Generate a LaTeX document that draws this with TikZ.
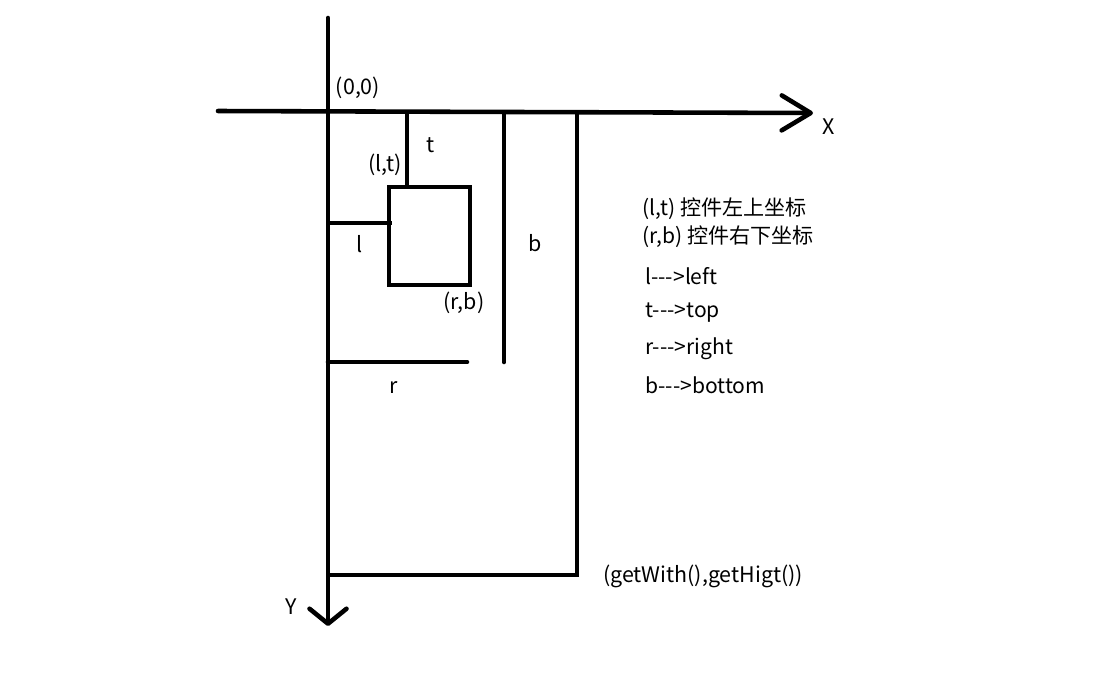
\documentclass[tikz,border=0pt]{standalone}
\usepackage{fontspec}
\setmainfont{Noto Sans CJK SC}
\usetikzlibrary{arrows.meta, positioning, calc}

\begin{document}
\begin{tikzpicture}[
    x=0.02cm, y=-0.02cm,
    pen/.style={line width=2.6pt},
    axis/.style={pen, line cap=round},
    lbl/.style={font=\fontsize{12.2}{14}\selectfont, inner sep=0},
    note/.style={font=\fontsize{12}{14}\selectfont, inner sep=0, anchor=west}
]
\useasboundingbox (0,0) rectangle (1114,673);
% axes
\coordinate (xs) at (218,111);
\coordinate (xe) at (813,113);
\coordinate (ys) at (328,18);
\coordinate (ye) at (328,626);
\draw[axis, -{Straight Barb[length=0.58cm, width=0.7cm, round]}] (xs) -- (xe);
\draw[axis, -{Straight Barb[length=0.3cm, width=0.74cm, round]}] (ys) -- (ye);
\node[lbl] (xl) at (829,127) {X};
\node[lbl] (yl) at (291,607) {Y};
\node[lbl] (org) at (358,88) {(0,0)};
% the control
\coordinate (lt) at (389,187);
\coordinate (rb) at (470,285);
\draw[pen] (lt) rectangle (rb);
\node[lbl] (ltl) at (385,165) {(l,t)};
\node[lbl] (rbl) at (464,303) {(r,b)};
% distances l, t, r, b
\coordinate (t0) at (407,113);
\coordinate (l0) at (328,223);
\coordinate (r0) at (328,362);
\coordinate (b0) at (504,113);
\draw[pen] (t0) -- (t0 |- lt);
\draw[pen] (l0) -- (392,223);
\draw[pen, line cap=round] (r0) -- (467,362);
\draw[pen, line cap=round] (b0) -- (504,362);
\node[lbl] (tl) at (431,145) {t};
\node[lbl] (ll) at (360,244) {l};
\node[lbl] (rl) at (394,388) {r};
\node[lbl] (bl) at (535,243) {b};
% parent size
\coordinate (w0) at (577,113);
\coordinate (wh) at (577,575);
\coordinate (h0) at (328,575);
\draw[pen] (w0) -- (wh) -- (h0);
\node[lbl] (whl) at (703,576) {(getWith(),getHigt())};
% legend
\node[note] (n1) at (642,209) {(l,t) 控件左上坐标};
\node[note] (n2) at (642,237) {(r,b) 控件右下坐标};
\foreach \k/\y/\w in {l/276/left, t/313/top, r/349/right, b/385/bottom}
  \node[note] (n\k) at (645,\y) {\k-{}-{}->\w};
\end{tikzpicture}
\end{document}
